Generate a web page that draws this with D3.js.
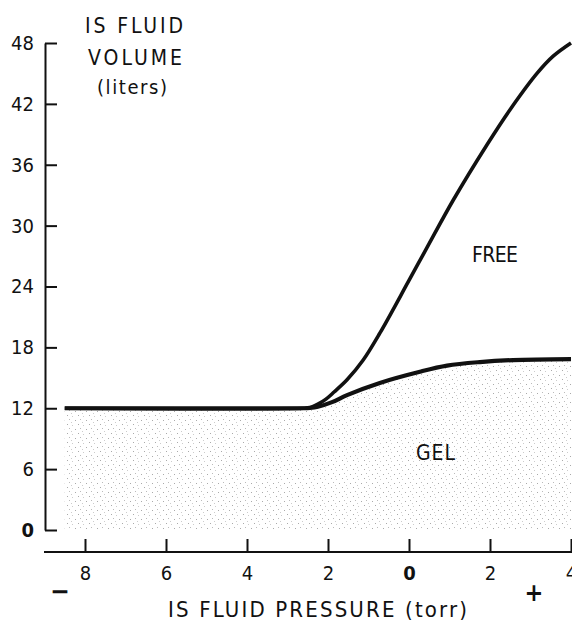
<!DOCTYPE html>
<html>
<head>
<meta charset="utf-8">
<script src="https://cdn.jsdelivr.net/npm/d3@7"></script>
<style>
body { margin: 0; background: #fff; }
svg text { font-family: "DejaVu Sans Condensed", "DejaVu Sans", sans-serif; fill: #111; }
</style>
</head>
<body>
<div id="svg-wrapper"></div>
<script>
// valeurs (pression en torr, volume en litres)
var pressions = [-8.5, -2.6, -2.45, -2.25, -2.05, -1.85, -1.53, -1.14, -0.72, 0, 0.44, 1.09, 1.93, 2.49, 3.16, 3.56, 4.0];
var volumeTotal = [12, 12, 12.05, 12.4, 12.9, 13.6, 14.8, 16.7, 19.4, 24.6, 27.8, 32.5, 38.0, 41.4, 45.0, 46.7, 48.0];
var pressionsGel = [-8.5, -2.6, -2.45, -2.25, -1.9, -1.53, -0.72, 0.27, 0.94, 1.75, 2.57, 4.0];
var volumeGel = [12, 12, 12.03, 12.15, 12.6, 13.3, 14.5, 15.6, 16.2, 16.55, 16.75, 16.85];
var ticksX = [-8, -6, -4, -2, 0, 2, 4];
var ticksY = [0, 6, 12, 18, 24, 30, 36, 42, 48];

var width = 572,
    height = 622;

var svg = d3
    .select("#svg-wrapper")
    .append("svg")
    .attr("width", width)
    .attr("height", height);

var x = d3.scaleLinear().domain([-8, 4]).range([85, 571]);
var y = d3.scaleLinear().domain([0, 48]).range([530, 43]);

// motif pointillé (très clair) pour la zone "gel"
var pat = svg.append("defs").append("pattern")
    .attr("id", "pointille")
    .attr("patternUnits", "userSpaceOnUse")
    .attr("width", 11)
    .attr("height", 9);
[[1, 1, "#aaa"], [6, 2, "#ccc"], [3, 5, "#bbb"], [9, 6, "#aaa"], [5, 8, "#ccc"]].forEach(function (p) {
    pat.append("rect")
        .attr("x", p[0]).attr("y", p[1])
        .attr("width", 1).attr("height", 1)
        .attr("fill", p[2]);
});

var gel = d3.zip(pressionsGel, volumeGel);
var total = d3.zip(pressions, volumeTotal);

// catmull-rom pour des courbes bien lisses
var courbe = d3.curveCatmullRom.alpha(0.5);

var area = d3.area()
    .x(function (d) { return x(d[0]); })
    .y0(y(0))
    .y1(function (d) { return y(d[1]); })
    .curve(courbe);

var line = d3.line()
    .x(function (d) { return x(d[0]); })
    .y(function (d) { return y(d[1]); })
    .curve(courbe);

svg.append("path")
    .datum(gel)
    .attr("d", area)
    .attr("fill", "url(#pointille)");

// axe vertical, graduations vers l'intérieur
var axeY = d3.axisLeft(y)
    .tickValues(ticksY)
    .tickSizeInner(-12)
    .tickSizeOuter(0)
    .tickPadding(11);

var gY = svg.append("g")
    .attr("transform", "translate(45,0)")
    .call(axeY)
    .attr("font-family", null)
    .attr("font-size", 20);
gY.selectAll("path, line").attr("stroke", "#111").attr("stroke-width", 2);
gY.selectAll("text").style("font-weight", function (d) { return d === 0 ? "bold" : "normal"; });

// axe horizontal, séparé plus bas
var axeX = d3.axisBottom(x)
    .tickValues(ticksX)
    .tickSizeInner(-13)
    .tickSizeOuter(0)
    .tickPadding(14)
    .tickFormat(function (d) { return Math.abs(d); });

var gX = svg.append("g")
    .attr("transform", "translate(0,552)")
    .call(axeX)
    .attr("font-family", null)
    .attr("font-size", 20);
gX.select(".domain").remove();
gX.append("line")
    .attr("x1", 44).attr("x2", width)
    .attr("stroke", "#111").attr("stroke-width", 2);
gX.selectAll(".tick line").attr("stroke", "#111").attr("stroke-width", 2);
gX.selectAll("text").style("font-weight", function (d) { return d === 0 ? "bold" : "normal"; });

// les deux courbes
svg.append("path")
    .datum(total)
    .attr("d", line)
    .attr("fill", "none")
    .attr("stroke", "#111")
    .attr("stroke-width", 3.6);

svg.append("path")
    .datum(gel)
    .attr("d", line)
    .attr("fill", "none")
    .attr("stroke", "#111")
    .attr("stroke-width", 4.2);

// textes
function texte(t, x0, y0, taille, longueur) {
    var el = svg.append("text")
        .attr("x", x0)
        .attr("y", y0)
        .attr("font-size", taille)
        .text(t);
    if (longueur) {
        el.attr("textLength", longueur).attr("lengthAdjust", "spacing");
    }
    return el;
}

texte("IS FLUID", 85, 33, 21, 98);
texte("VOLUME", 88, 65, 21, 94);
texte("(liters)", 97, 94, 20, 70);
texte("FREE", 472, 262, 21, 46);
texte("GEL", 416, 460, 21, 39);
texte("IS FLUID PRESSURE (torr)", 168, 617, 22, 299);

svg.append("text")
    .attr("x", 60).attr("y", 600)
    .attr("text-anchor", "middle")
    .attr("font-size", 26)
    .style("font-weight", "bold")
    .text("−");

svg.append("text")
    .attr("x", 534).attr("y", 601)
    .attr("text-anchor", "middle")
    .attr("font-size", 25)
    .style("font-weight", "bold")
    .text("+");
</script>
</body>
</html>
